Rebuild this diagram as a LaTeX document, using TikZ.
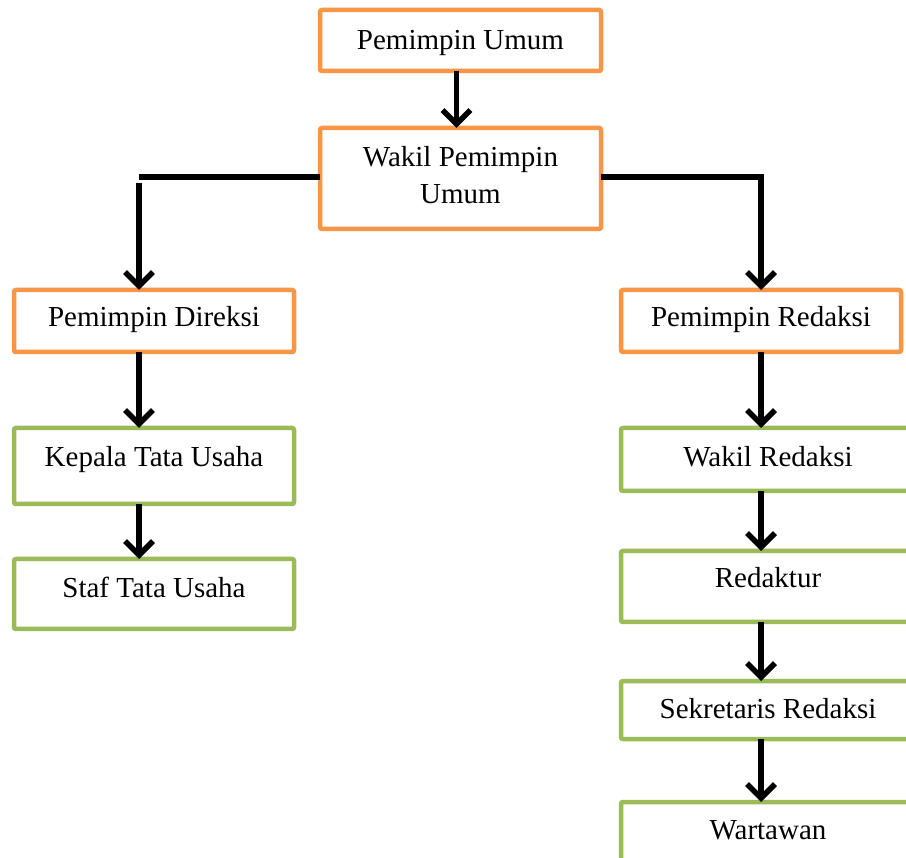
\documentclass[tikz,border=0pt]{standalone}
\usepackage{fontspec}
\setmainfont{Liberation Serif}
\usepackage{xcolor}
\usetikzlibrary{arrows.meta, positioning}
\definecolor{myorange}{RGB}{247,150,70}
\definecolor{mygreen}{RGB}{155,187,89}
\tikzset{
  box/.style={draw, line width=4.5pt, rounded corners=2pt, fill=white,
              outer sep=0pt, inner sep=0pt, anchor=north west,
              font=\fontsize{29}{37}\selectfont, text height=20pt, text depth=6pt},
  leadbox/.style={box, draw=myorange},
  staffbox/.style={box, draw=mygreen},
  wire/.style={line width=5.5pt},
  link/.style={wire, -{Straight Barb[length=14pt,width=28pt]}}
}

\begin{document}
\begin{tikzpicture}[x=1pt, y=-1pt]
  \useasboundingbox (0,0) rectangle (906,858);
  \clip (0,0) rectangle (906,858);

  % top
  \node[leadbox, minimum width=281pt, minimum height=61pt, text depth=1pt] (pu) at (320,10) {Pemimpin Umum};
  \node[leadbox, minimum width=281pt, minimum height=101pt, align=center,
        text height={}, text depth={}] (wpu) at (320,128) {Wakil Pemimpin\\Umum\vphantom{p}};

  % left column
  \node[leadbox, minimum width=280pt, minimum height=62pt, text depth=8pt] (pd) at (14,290) {Pemimpin Direksi};
  \node[staffbox, minimum width=280pt, minimum height=76pt, text depth=18pt] (kt) at (14,428) {Kepala Tata Usaha};
  \node[staffbox, minimum width=280pt, minimum height=70pt, text depth=12pt] (st) at (14,559) {Staf Tata Usaha};

  % right column
  \node[leadbox, minimum width=280pt, minimum height=62pt, text depth=8pt] (pr) at (621,290) {Pemimpin Redaksi};
  \node[staffbox, minimum width=294pt, minimum height=63pt] (wr) at (621,428) {Wakil Redaksi};
  \node[staffbox, minimum width=294pt, minimum height=71pt, text depth=17pt] (rd) at (621,551) {Redaktur};
  \node[staffbox, minimum width=294pt, minimum height=58pt, text depth=4pt] (sr) at (621,681) {Sekretaris Redaksi};
  \node[staffbox, minimum width=294pt, minimum height=78pt, text depth=24pt] (ww) at (621,802) {Wartawan};

  \coordinate (lturn) at (139,177);
  \coordinate (rturn) at (762,177);

  \draw[link] ([xshift=-4pt]pu.south) -- ([xshift=-4pt]wpu.north);
  \draw[wire] (lturn -| wpu.west) -- (lturn);
  \draw[link] ([yshift=-6pt]lturn) -- (lturn |- pd.north);
  \draw[link] (rturn -| wpu.east) -| (pr.north);

  \draw[link] (lturn |- pd.south) -- (lturn |- kt.north);
  \draw[link] (lturn |- kt.south) -- (lturn |- st.north);

  \draw[link] (pr.south) -- (pr.south |- wr.north);
  \draw[link] (pr.south |- wr.south) -- (pr.south |- rd.north);
  \draw[link] (pr.south |- rd.south) -- (pr.south |- sr.north);
  \draw[link] (pr.south |- sr.south) -- (pr.south |- ww.north);
\end{tikzpicture}
\end{document}
